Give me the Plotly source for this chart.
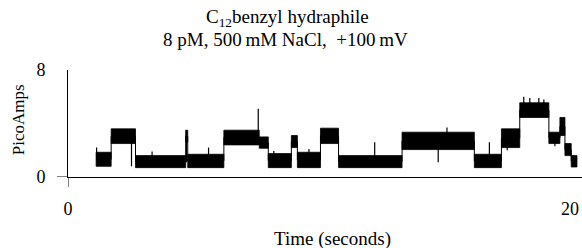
import plotly.graph_objects as go

# Current levels (pA) of the trace: each dwell segment with its noise band
seg_start = [1.12, 1.72, 2.69, 4.69, 4.77, 6.21, 7.62, 7.98, 8.90, 9.14, 10.06, 10.78, 13.31, 16.19, 17.27, 18.00, 19.16, 19.60, 19.80, 20.05]
seg_end   = [1.72, 2.69, 4.69, 4.77, 6.21, 7.62, 7.98, 8.90, 9.14, 10.06, 10.78, 13.31, 16.19, 17.27, 18.00, 19.16, 19.60, 19.80, 20.05, 20.28]
seg_low   = [0.80, 2.50, 0.70, 2.60, 0.70, 2.40, 2.15, 0.70, 2.20, 0.70, 2.50, 0.70, 2.05, 0.70, 2.20, 4.45, 2.50, 3.10, 1.60, 0.75]
seg_high  = [1.85, 3.60, 1.60, 3.50, 1.70, 3.50, 3.00, 1.75, 3.10, 1.85, 3.65, 1.60, 3.35, 1.70, 3.60, 5.55, 3.35, 4.45, 2.50, 1.60]

# Brief excursions (spikes / dips): time, base level, extreme level
spike_t    = [1.14, 2.53, 3.35, 4.72, 5.60, 7.58, 8.20, 9.60, 12.22, 14.75, 15.10, 16.79,
              17.50, 18.16, 18.40, 18.76, 18.96, 19.40]
spike_from = [1.3,  3.0,  1.2,  1.1,  1.2,  3.0,  1.2,  1.3,  1.1,   2.7,   2.7,   1.2,
              2.9,  5.0,  5.0,  5.0,  5.0,  2.9]
spike_to   = [2.2,  0.8,  1.9,  3.5,  2.2,  5.1,  1.95, 2.1,  2.6,   1.1,   3.7,   2.6,
              2.0,  6.0,  5.9,  5.9,  5.8,  2.3]

x_ticks = [0, 20]
y_ticks = [0, 8]

title_line1 = "C<sub>12</sub>benzyl hydraphile"
title_line2 = "8 pM, 500\u2009mM NaCl,  +100\u2009mV"
x_title = "Time (seconds)"
y_title = "PicoAmps"

band_x, band_y = [], []
for s, e, lo, hi in zip(seg_start, seg_end, seg_low, seg_high):
    band_x += [s, e, e, s, s, None]
    band_y += [lo, lo, hi, hi, lo, None]

step_x = seg_start + [seg_end[-1]]
mids = [(lo + hi) / 2 for lo, hi in zip(seg_low, seg_high)]
step_y = mids + [mids[-1]]

sp_x, sp_y = [], []
for t, a, b in zip(spike_t, spike_from, spike_to):
    sp_x += [t, t, None]
    sp_y += [a, b, None]

fig = go.Figure()
fig.add_trace(go.Scatter(x=band_x, y=band_y, mode="lines", fill="toself",
                         fillcolor="black", line=dict(color="black", width=0.8),
                         hoverinfo="skip", showlegend=False))
fig.add_trace(go.Scatter(x=step_x, y=step_y, mode="lines", line_shape="hv",
                         line=dict(color="black", width=1), showlegend=False))
fig.add_trace(go.Scatter(x=sp_x, y=sp_y, mode="lines",
                         line=dict(color="black", width=1.2), showlegend=False))

serif = "Liberation Serif, DejaVu Serif, serif"
font = dict(family=serif, size=18, color="black")

fig.update_layout(
    width=582, height=248,
    margin=dict(l=68, r=0, t=70, b=71, autoexpand=False),
    paper_bgcolor="white", plot_bgcolor="white",
    font=font,
    xaxis=dict(range=[0, 20.48], tickvals=x_ticks, showgrid=False, zeroline=False,
               showline=True, linecolor="black", linewidth=1,
               ticks="", ticklabelstandoff=15, automargin=False),
    yaxis=dict(range=[0, 8], tickvals=y_ticks, showgrid=False, zeroline=False,
               showline=True, linecolor="black", linewidth=1,
               ticks="", ticklabelstandoff=18, automargin=False),
    shapes=[
        # tick marks at the origin only (below and to the left of the axes)
        dict(type="line", xref="x", yref="paper", x0=0, x1=0, y0=0, y1=-10 / 107,
             line=dict(color="black", width=1)),
        dict(type="line", xref="paper", yref="y", x0=-11 / 514, x1=0, y0=0, y1=0,
             line=dict(color="black", width=1)),
    ],
    annotations=[
        dict(text=title_line1, xref="paper", yref="paper", x=(287 - 68) / 514, y=1.49,
             showarrow=False, xanchor="center", yanchor="middle", font=dict(size=19)),
        dict(text=title_line2, xref="paper", yref="paper", x=(285 - 68) / 514, y=1.285,
             showarrow=False, xanchor="center", yanchor="middle", font=dict(size=19)),
        dict(text=x_title, xref="paper", yref="paper", x=(332 - 68) / 514, y=-0.58,
             showarrow=False, xanchor="center", yanchor="middle", font=dict(size=19)),
        dict(text=y_title, xref="paper", yref="paper", x=-50 / 514, y=0.53,
             showarrow=False, xanchor="center", yanchor="middle", textangle=-90,
             font=dict(size=17)),
    ],
)

fig.write_html("out.html", config={"displayModeBar": False},
               post_script="document.body.style.margin='0';")
